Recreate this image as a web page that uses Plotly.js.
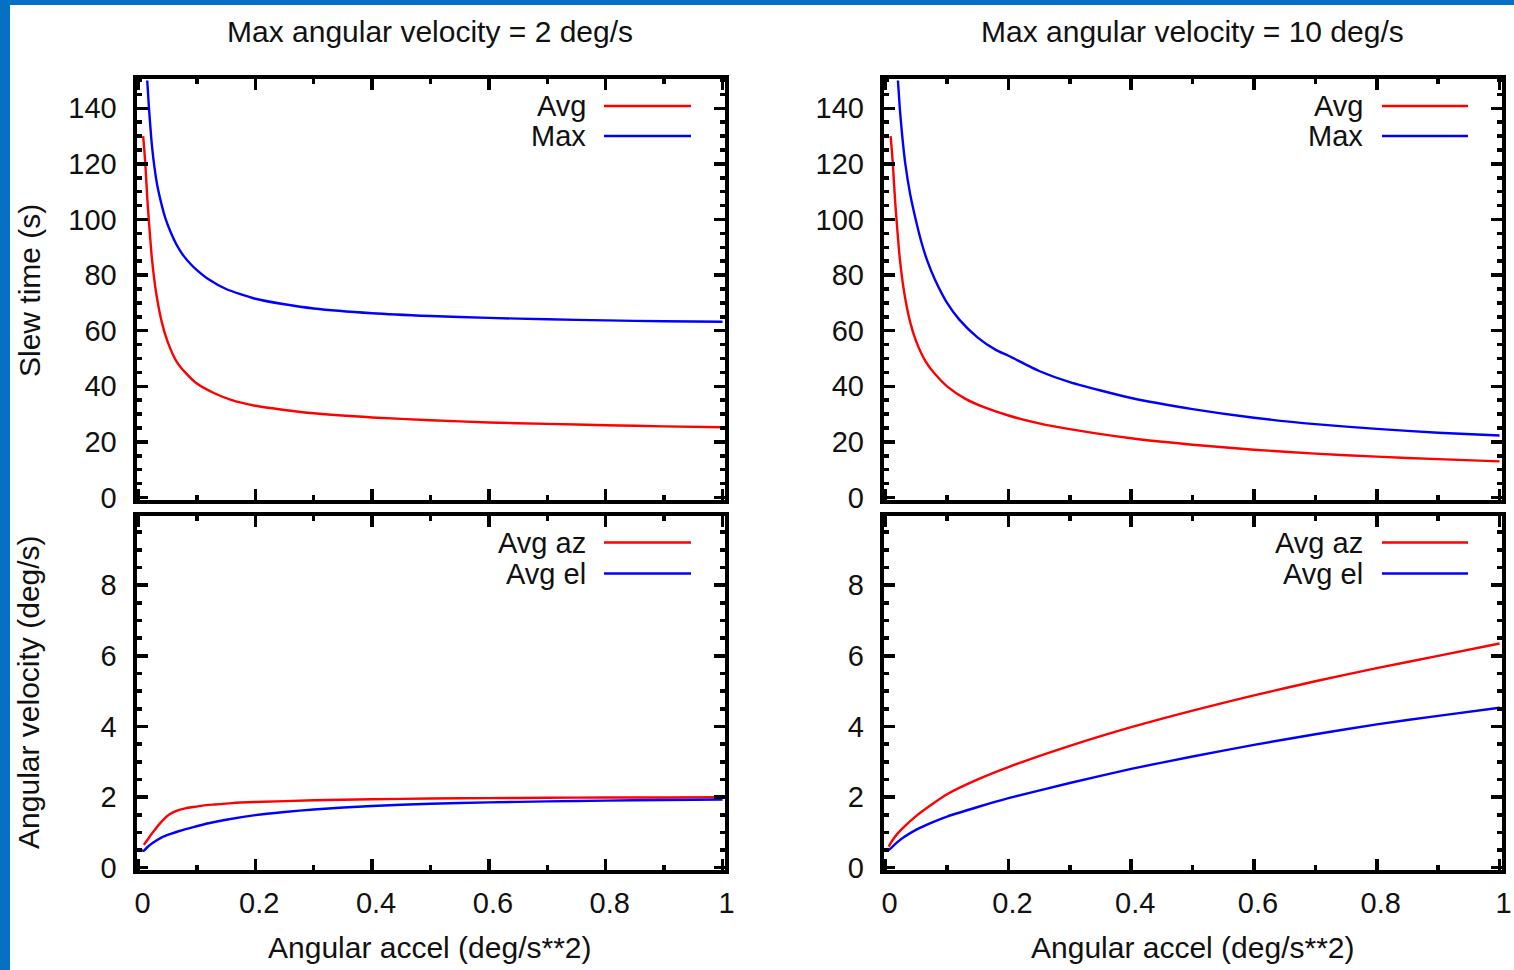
<!DOCTYPE html>
<html>
<head>
<meta charset="utf-8">
<script src="https://cdn.plot.ly/plotly-3.0.1.min.js"></script>
<style>
  html, body { margin: 0; padding: 0; background: #ffffff; }
  #chart { width: 1514px; height: 970px; }
</style>
</head>
<body>
<div id="chart"></div>
<script>
// ---------------- data ----------------
const panelTitles = ["Max angular velocity = 2 deg/s", "Max angular velocity = 10 deg/s"];
const xTitle = "Angular accel (deg/s**2)";
const yTitleTop = "Slew time (s)";
const yTitleBottom = "Angular velocity (deg/s)";
const topSeriesNames = ["Avg", "Max"];
const bottomSeriesNames = ["Avg az", "Avg el"];

// Left column: max angular velocity = 2 deg/s
const l_avg_x = [0.008, 0.010, 0.012, 0.015, 0.018, 0.023, 0.03, 0.04, 0.05, 0.065, 0.08, 0.1, 0.13, 0.16, 0.2, 0.25, 0.3, 0.4, 0.5, 0.6, 0.7, 0.8, 0.9, 1.0];
const l_avg_y = [130, 125, 119, 108, 99, 86, 74, 63, 56, 49, 45, 41, 37.5, 35, 33, 31.5, 30.3, 28.8, 27.8, 27.0, 26.5, 26.0, 25.6, 25.3];
const l_max_x = [0.015, 0.018, 0.022, 0.026, 0.032, 0.04, 0.046, 0.055, 0.065, 0.077, 0.09, 0.1, 0.12, 0.15, 0.2, 0.25, 0.3, 0.4, 0.5, 0.6, 0.7, 0.8, 0.9, 1.0];
const l_max_y = [150, 140, 129, 121, 112.5, 105, 100.5, 95.5, 91, 87, 83.8, 81.8, 78.5, 75, 71.5, 69.5, 68, 66.3, 65.3, 64.6, 64.1, 63.7, 63.4, 63.2];
const l_az_x = [0.009, 0.015, 0.02, 0.026, 0.035, 0.045, 0.054, 0.065, 0.08, 0.094, 0.11, 0.13, 0.16, 0.2, 0.3, 0.4, 0.5, 0.6, 0.7, 0.8, 0.9, 1.0];
const l_az_y = [0.65, 0.78, 0.9, 1.03, 1.22, 1.4, 1.52, 1.61, 1.68, 1.72, 1.76, 1.79, 1.83, 1.86, 1.91, 1.94, 1.96, 1.97, 1.98, 1.99, 1.99, 2.0];
const l_el_x = [0.005, 0.009, 0.015, 0.026, 0.04, 0.054, 0.07, 0.094, 0.12, 0.15, 0.2, 0.25, 0.3, 0.4, 0.5, 0.6, 0.7, 0.8, 0.9, 1.0];
const l_el_y = [0.5, 0.48, 0.58, 0.72, 0.86, 0.95, 1.04, 1.15, 1.26, 1.36, 1.49, 1.58, 1.65, 1.75, 1.81, 1.85, 1.88, 1.90, 1.92, 1.93];

// Right column: max angular velocity = 10 deg/s
const r_avg_x = [0.008, 0.010, 0.012, 0.015, 0.018, 0.023, 0.03, 0.04, 0.05, 0.065, 0.08, 0.1, 0.13, 0.16, 0.2, 0.25, 0.3, 0.4, 0.5, 0.6, 0.7, 0.8, 0.9, 1.0];
const r_avg_y = [130, 125, 119, 108, 99, 86, 74, 63, 56, 49, 44.5, 40, 35.5, 32.5, 29.5, 26.7, 24.6, 21.3, 19.0, 17.2, 15.8, 14.7, 13.8, 13.0];
const r_max_x = [0.02, 0.023, 0.027, 0.032, 0.04, 0.05, 0.058, 0.068, 0.08, 0.1, 0.12, 0.15, 0.18, 0.2, 0.25, 0.3, 0.4, 0.5, 0.6, 0.7, 0.8, 0.9, 1.0];
const r_max_y = [150, 140, 130, 120, 109, 99, 92, 85, 78.5, 70, 64, 57.5, 53, 51, 45.5, 41.5, 35.8, 31.8, 28.7, 26.4, 24.7, 23.3, 22.3];
const r_az_x = [0.005, 0.01, 0.02, 0.03, 0.05, 0.075, 0.1, 0.15, 0.2, 0.3, 0.4, 0.5, 0.6, 0.7, 0.8, 0.9, 1.0];
const r_az_y = [0.6, 0.75, 0.98, 1.16, 1.47, 1.79, 2.08, 2.5, 2.85, 3.45, 3.98, 4.45, 4.88, 5.28, 5.65, 6.0, 6.35];
const r_el_x = [0.005, 0.01, 0.02, 0.03, 0.05, 0.075, 0.1, 0.15, 0.2, 0.3, 0.4, 0.5, 0.6, 0.7, 0.8, 0.9, 1.0];
const r_el_y = [0.5, 0.58, 0.74, 0.87, 1.08, 1.28, 1.45, 1.72, 1.97, 2.4, 2.8, 3.15, 3.48, 3.78, 4.06, 4.3, 4.53];

// ---------------- styling / layout ----------------
const W = 1514, H = 970;
const RED = "#ff0000", BLUE = "#0000ff";
const FONT = "Liberation Sans, Arial, Helvetica, sans-serif";
const TXT = "#111111";
const px = v => v / W;
const py = v => 1 - v / H;

function line(x, y, color, xa, ya) {
  return { x: x, y: y, type: "scatter", mode: "lines", xaxis: xa, yaxis: ya,
           line: { color: color, width: 2.4, shape: "spline", smoothing: 0.6 },
           hoverinfo: "skip", showlegend: false };
}

const traces = [
  line(l_avg_x, l_avg_y, RED, "x", "y"),
  line(l_max_x, l_max_y, BLUE, "x", "y"),
  line(r_avg_x, r_avg_y, RED, "x2", "y2"),
  line(r_max_x, r_max_y, BLUE, "x2", "y2"),
  line(l_az_x, l_az_y, RED, "x3", "y3"),
  line(l_el_x, l_el_y, BLUE, "x3", "y3"),
  line(r_az_x, r_az_y, RED, "x4", "y4"),
  line(r_el_x, r_el_y, BLUE, "x4", "y4"),
];

const LW = 4;
function axisBase(extra) {
  return Object.assign({
    showline: true, linecolor: "#000", linewidth: LW, mirror: "ticks",
    ticks: "inside", ticklen: 11, tickwidth: 3.5, tickcolor: "#000",
    showgrid: false, zeroline: false, fixedrange: true,
    tickfont: { family: FONT, size: 29, color: TXT },
  }, extra);
}

// panel geometry (pixels, measured at the border centre lines)
const colL = [134.5, 726.5], colR = [881.7, 1503.5];
const rowT = [76.5, 501.5], rowB = [514.1, 871.7];
function xDomain(c) { return [px(c[0] + LW / 2), px(c[1] - LW / 2)]; }
function yDomain(r) { return [py(r[1] - LW / 2), py(r[0] + LW / 2)]; }
function xRange(c) { const k = (LW / 2) / (c[1] - c[0]); return [-k, 1 + k]; }
function yRange(r, top) { const k = (LW / 2) * top / (r[1] - r[0]); return [-k, top + k]; }

const xMinor = { ticks: "inside", ticklen: 5, tickwidth: 3.5, tickcolor: "#000", dtick: 0.1 };

const layout = {
  width: W, height: H,
  margin: { l: 0, r: 0, t: 0, b: 0 },
  paper_bgcolor: "#ffffff", plot_bgcolor: "#ffffff",
  showlegend: false,
  font: { family: FONT, color: TXT },
  xaxis: axisBase({ domain: xDomain(colL), range: xRange(colL), anchor: "y", dtick: 0.2, tick0: 0, showticklabels: false, minor: xMinor }),
  xaxis2: axisBase({ domain: xDomain(colR), range: xRange(colR), anchor: "y2", dtick: 0.2, tick0: 0, showticklabels: false, minor: xMinor }),
  xaxis3: axisBase({ domain: xDomain(colL), range: xRange(colL), anchor: "y3", dtick: 0.2, tick0: 0, minor: xMinor, ticklabelstandoff: 4, ticklabelshift: 4 }),
  xaxis4: axisBase({ domain: xDomain(colR), range: xRange(colR), anchor: "y4", dtick: 0.2, tick0: 0, minor: xMinor, ticklabelstandoff: 4, ticklabelshift: 4 }),
  yaxis: axisBase({ domain: yDomain(rowT), range: yRange(rowT, 150), anchor: "x", dtick: 20, tick0: 0,
    minor: { ticks: "inside", ticklen: 5, tickwidth: 3.5, tickcolor: "#000", dtick: 5 }, ticklabelstandoff: 10 }),
  yaxis2: axisBase({ domain: yDomain(rowT), range: yRange(rowT, 150), anchor: "x2", dtick: 20, tick0: 0,
    minor: { ticks: "inside", ticklen: 5, tickwidth: 3.5, tickcolor: "#000", dtick: 5 }, ticklabelstandoff: 10 }),
  yaxis3: axisBase({ domain: yDomain(rowB), range: yRange(rowB, 9.9), anchor: "x3", dtick: 2, tick0: 0,
    minor: { ticks: "inside", ticklen: 5, tickwidth: 3.5, tickcolor: "#000", dtick: 0.5 }, ticklabelstandoff: 10 }),
  yaxis4: axisBase({ domain: yDomain(rowB), range: yRange(rowB, 9.9), anchor: "x4", dtick: 2, tick0: 0,
    minor: { ticks: "inside", ticklen: 5, tickwidth: 3.5, tickcolor: "#000", dtick: 0.5 }, ticklabelstandoff: 10 }),
  annotations: [],
  shapes: [],
};

function ann(text, x, y, opts) {
  layout.annotations.push(Object.assign({
    text: text, x: x, y: y, xref: "paper", yref: "paper", showarrow: false,
    xanchor: "center", yanchor: "middle",
    font: { family: FONT, size: 30, color: TXT },
  }, opts || {}));
}

// panel titles
ann(panelTitles[0], px((colL[0] + colL[1]) / 2), py(32));
ann(panelTitles[1], px((colR[0] + colR[1]) / 2), py(32));
// x axis titles
ann(xTitle, px((colL[0] + colL[1]) / 2), py(947));
ann(xTitle, px((colR[0] + colR[1]) / 2), py(947));
// y axis titles
ann(yTitleTop, px(29), py((rowT[0] + rowT[1]) / 2 + 2), { textangle: -90 });
ann(yTitleBottom, px(29), py((rowB[0] + rowB[1]) / 2), { textangle: -90 });

// legends (gnuplot style: label on the left, sample line on the right)
function legend(names, textRight, keyX0, keyX1, rowsY) {
  names.forEach((n, i) => {
    ann(n, px(textRight), py(rowsY[i]), { xanchor: "right", font: { family: FONT, size: 29, color: TXT } });
    layout.shapes.push({ type: "line", xref: "paper", yref: "paper",
      x0: px(keyX0), x1: px(keyX1), y0: py(rowsY[i]), y1: py(rowsY[i]),
      line: { color: i === 0 ? RED : BLUE, width: 2.4 } });
  });
}
legend(topSeriesNames, 588, 604, 691, [106, 136]);
legend(topSeriesNames, 1365, 1382, 1468, [106, 136]);
legend(bottomSeriesNames, 588, 604, 691, [542.5, 573.5]);
legend(bottomSeriesNames, 1365, 1382, 1468, [542.5, 573.5]);

// blue page frame on the left and top edges
layout.shapes.push({ type: "rect", xref: "paper", yref: "paper", x0: 0, x1: px(10), y0: 0, y1: 1,
  fillcolor: "#0570c4", line: { width: 0 }, layer: "above" });
layout.shapes.push({ type: "rect", xref: "paper", yref: "paper", x0: 0, x1: 1, y0: py(5), y1: 1,
  fillcolor: "#0570c4", line: { width: 0 }, layer: "above" });

Plotly.newPlot("chart", traces, layout, { staticPlot: true, displayModeBar: false });
</script>
</body>
</html>
